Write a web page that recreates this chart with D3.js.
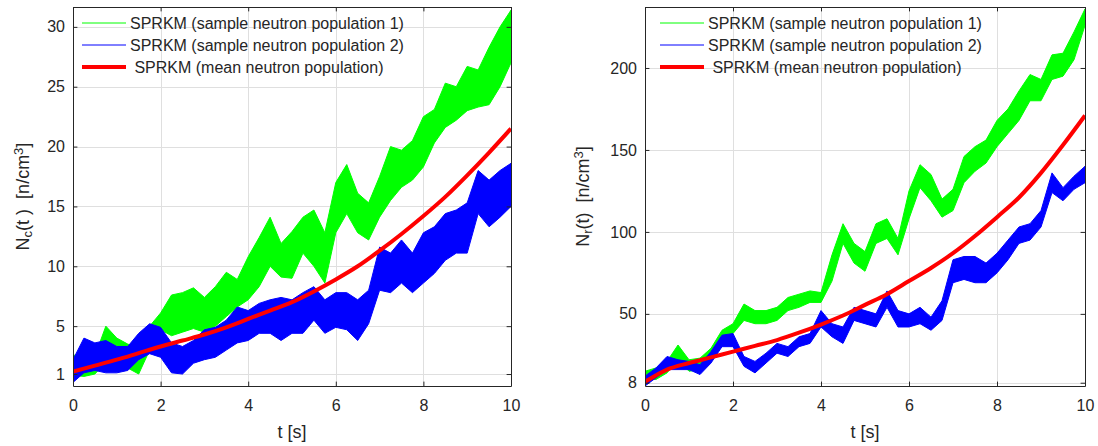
<!DOCTYPE html>
<html>
<head>
<meta charset="utf-8">
<script src="https://cdn.jsdelivr.net/npm/d3@7/dist/d3.min.js"></script>
<style>
body { margin: 0; background: #fff; }
text { font-family: Arial, "Liberation Sans", Helvetica, sans-serif; fill: #262626; }
.axis path, .axis line { stroke: #262626; }
</style>
</head>
<body>
<script>
var width = 1098;
var height = 446;

var times = [0,0.25,0.5,0.75,1,1.25,1.5,1.75,2,2.25,2.5,2.75,3,3.25,3.5,3.75,4,4.25,4.5,4.75,
    5,5.25,5.5,5.75,6,6.25,6.5,6.75,7,7.25,7.5,7.75,8,8.25,8.5,8.75,9,9.25,9.5,9.75,10];
var meanTimes = [0,0.5,1,1.5,2,2.5,3,3.5,4,4.5,5,5.5,6,6.5,7,7.5,8,8.5,9,9.5,10];

var xTicks = [0, 2, 4, 6, 8, 10];
var cTicks = [1, 5, 10, 15, 20, 25, 30];
var rTicks = [8, 50, 100, 150, 200];
var legendLabels = ["SPRKM (sample neutron population 1)",
    "SPRKM (sample neutron population 2)",
    " SPRKM (mean neutron population)"];

// left panel: N_c(t)
var cGreenLo = [0.9,0.8,1.0,2.0,2.0,1.5,1.0,3.0,4.7,4.2,4.5,4.8,4.5,5.0,5.8,6.6,7.2,8.3,10.0,9.1,
    9.0,11.1,10.0,8.6,12.8,14.4,12.8,12.2,14.1,15.5,16.6,17.2,18.3,20.3,21.6,22.2,23.0,23.3,23.5,25.0,27.0];
var cGreenHi = [2.6,2.4,2.5,5.0,4.0,3.5,3.2,5.0,6.1,7.6,7.8,8.2,7.4,8.3,9.5,8.9,10.8,12.4,14.1,11.9,
    12.9,14.1,14.7,12.8,17.0,18.5,16.1,15.3,17.5,20.0,19.7,20.5,22.5,23.1,25.3,25.0,26.7,26.4,28.3,30.0,31.4];
var cBlueLo = [0.3,1.1,1.3,1.1,1.1,1.3,2.2,2.7,2.4,1.1,1.0,1.9,2.2,2.4,3.0,3.6,3.8,4.4,4.4,3.8,
    4.4,4.4,5.5,4.4,4.9,4.7,3.8,5.2,8.0,7.8,8.6,7.8,8.6,9.4,10.5,11.1,11.1,14.4,13.3,14.1,15.0];
var cBlueHi = [2.2,4.0,3.6,3.8,3.3,3.3,4.4,5.2,4.9,3.6,3.3,3.8,4.7,4.9,5.5,6.6,6.3,6.9,7.2,7.4,
    7.2,7.8,8.3,7.2,7.8,7.8,7.2,8.0,11.6,11.1,12.2,11.1,12.8,13.3,14.4,14.7,15.3,18.0,17.2,18.0,18.6];
var cMean = [1.2,1.7,2.2,2.75,3.3,3.8,4.3,4.9,5.6,6.3,7.0,7.9,8.9,10.0,11.3,12.7,14.2,15.8,17.6,19.5,21.5];

// right panel: N_r(t)
var rGreenLo = [10,10,14,22,15,16,22,33,38,46,44,44,46,52,54,57,57,70,93,81,
    76,93,96,86,108,127,119,109,113,130,137,142,152,160,168,180,180,193,195,205,226];
var rGreenHi = [15,17,21,31,22,23,29,40,44,56,52,52,54,60,62,64,63,86,105,93,
    88,105,108,96,125,141,135,120,126,146,152,156,168,175,186,196,193,208,209,222,236];
var rBlueLo = [6,11,16,16,16,13,20,30,30,18,14,20,26,24,30,32,42,36,32,46,
    44,42,54,42,42,44,40,46,69,71,69,69,75,83,93,95,103,124,119,126,130];
var rBlueHi = [12,17,24,22,21,19,27,37,38,24,21,26,32,30,36,38,52,44,42,54,
    52,50,64,52,50,54,48,58,83,85,85,81,87,95,103,105,113,136,127,134,140];
var rMean = [8.5,16,20,23.5,27,30.5,34,38.5,43.5,49,55.5,62,70,78,87,97.5,109,121,136,153,171];

var svg = d3.select("body").append("svg")
    .attr("width", width)
    .attr("height", height);

var defs = svg.append("defs");

var panels = [
    { id: "c", left: 73, right: 511, yDomain: [0, 31.66], yTicks: cTicks,
      greenLo: cGreenLo, greenHi: cGreenHi, blueLo: cBlueLo, blueHi: cBlueHi, mean: cMean,
      sub: "c", paren: "(t )", legendX: 82, labelX: 29 },
    { id: "r", left: 645, right: 1085, yDomain: [6, 237.2], yTicks: rTicks,
      greenLo: rGreenLo, greenHi: rGreenHi, blueLo: rBlueLo, blueHi: rBlueHi, mean: rMean,
      sub: "r", paren: "(t)", legendX: 660, labelX: 589 }
];

var plotTop = 7, plotBottom = 386;

panels.forEach(drawPanel);

function drawPanel(p) {
    var x = d3.scaleLinear().domain([0, 10]).range([p.left, p.right]);
    var y = d3.scaleLinear().domain(p.yDomain).range([plotBottom, plotTop]);

    defs.append("clipPath").attr("id", "clip-" + p.id)
        .append("rect")
        .attr("x", p.left).attr("y", plotTop)
        .attr("width", p.right - p.left).attr("height", plotBottom - plotTop);

    // grid
    var grid = svg.append("g").attr("stroke", "#dfdfdf").attr("stroke-width", 1);
    grid.selectAll(".gx").data(xTicks).enter().append("line")
        .attr("x1", function(d) { return Math.round(x(d)) + 0.5; })
        .attr("x2", function(d) { return Math.round(x(d)) + 0.5; })
        .attr("y1", plotTop).attr("y2", plotBottom);
    grid.selectAll(".gy").data(p.yTicks).enter().append("line")
        .attr("y1", function(d) { return Math.round(y(d)) + 0.5; })
        .attr("y2", function(d) { return Math.round(y(d)) + 0.5; })
        .attr("x1", p.left).attr("x2", p.right);

    var plot = svg.append("g").attr("clip-path", "url(#clip-" + p.id + ")");

    // noisy sample paths drawn as their read envelopes
    var band = function(lo, hi) {
        return d3.area()
            .x(function(d, i) { return x(times[i]); })
            .y0(function(d, i) { return y(lo[i]); })
            .y1(function(d, i) { return y(hi[i]); })(times);
    };

    plot.append("path")
        .attr("d", band(p.greenLo, p.greenHi))
        .attr("fill", "#00ff00")
        .attr("stroke", "#00ff00")
        .attr("stroke-width", 1);

    plot.append("path")
        .attr("d", band(p.blueLo, p.blueHi))
        .attr("fill", "#0000ff")
        .attr("stroke", "#0000ff")
        .attr("stroke-width", 1);

    var meanLine = d3.line()
        .x(function(d, i) { return x(meanTimes[i]); })
        .y(function(d) { return y(d); })
        .curve(d3.curveMonotoneX);

    plot.append("path")
        .attr("d", meanLine(p.mean))
        .attr("fill", "none")
        .attr("stroke", "#ff0000")
        .attr("stroke-width", 4);

    // axes (ticks inward, box all round)
    svg.append("g").attr("class", "axis")
        .attr("transform", "translate(0," + plotBottom + ")")
        .call(d3.axisBottom(x).tickValues(xTicks).tickSize(-4.4).tickSizeOuter(0).tickPadding(14))
        .call(styleAxis);
    svg.append("g").attr("class", "axis")
        .attr("transform", "translate(0," + plotTop + ")")
        .call(d3.axisTop(x).tickValues(xTicks).tickSize(-4.4).tickSizeOuter(0).tickFormat(""))
        .call(styleAxis);
    svg.append("g").attr("class", "axis")
        .attr("transform", "translate(" + p.left + ",0)")
        .call(d3.axisLeft(y).tickValues(p.yTicks).tickSize(-4.4).tickSizeOuter(0).tickPadding(8))
        .call(styleAxis);
    svg.append("g").attr("class", "axis")
        .attr("transform", "translate(" + p.right + ",0)")
        .call(d3.axisRight(y).tickValues(p.yTicks).tickSize(-4.4).tickSizeOuter(0).tickFormat(""))
        .call(styleAxis);

    // axis labels
    svg.append("text")
        .attr("x", (p.left + p.right) / 2)
        .attr("y", 438)
        .attr("text-anchor", "middle")
        .style("font-size", "18px")
        .text("t [s]");

    var yl = svg.append("text")
        .attr("transform", "translate(" + p.labelX + "," + ((plotTop + plotBottom) / 2) + ")rotate(-90)")
        .attr("text-anchor", "middle")
        .style("font-size", "18px")
        .style("white-space", "pre");
    yl.append("tspan").text("N");
    yl.append("tspan").attr("baseline-shift", "-25%").style("font-size", "13px").text(p.sub);
    yl.append("tspan").text(p.paren + "  [n/cm");
    yl.append("tspan").attr("baseline-shift", "45%").style("font-size", "13px").text("3");
    yl.append("tspan").text("]");

    // legend (no box)
    var colors = ["#00ff00", "#0000ff", "#ff0000"];
    var widths = [1, 1, 4];
    var rows = [23, 45, 67];
    var lg = svg.append("g");
    legendLabels.forEach(function(label, i) {
        lg.append("line")
            .attr("x1", p.legendX).attr("x2", p.legendX + 44)
            .attr("y1", rows[i]).attr("y2", rows[i])
            .attr("stroke", colors[i])
            .attr("stroke-width", widths[i]);
        lg.append("text")
            .attr("x", p.legendX + 48)
            .attr("y", rows[i])
            .attr("dy", "0.35em")
            .style("font-size", "16px")
            .style("white-space", "pre")
            .text(label);
    });
}

function styleAxis(g) {
    g.selectAll("text").style("font-size", "16px").attr("fill", "#262626")
        .style("font-family", "Arial, 'Liberation Sans', Helvetica, sans-serif");
    g.selectAll("path").attr("stroke", "#262626").attr("stroke-width", 1);
    g.selectAll("line").attr("stroke", "#262626");
}
</script>
</body>
</html>
